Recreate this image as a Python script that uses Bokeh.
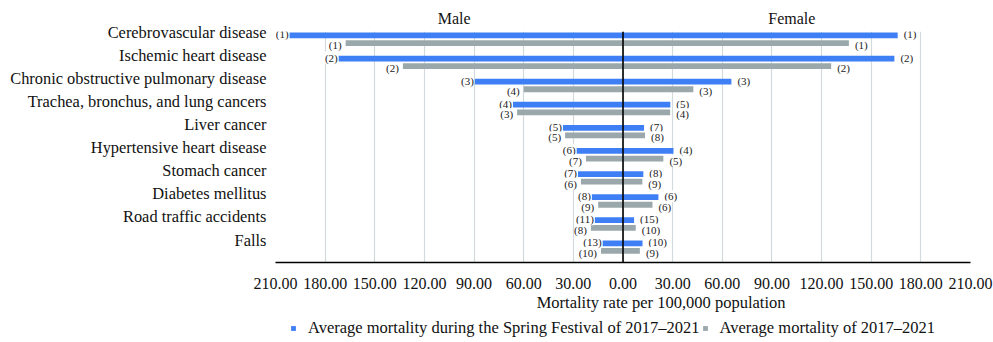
from bokeh.plotting import figure
from bokeh.layouts import column
from bokeh.models import (ColumnDataSource, Range1d, FixedTicker, LinearAxis,
                          Span, Legend, LegendItem)
from bokeh.core.properties import value
from bokeh.embed import file_html
from bokeh.resources import INLINE

# ---------------- data ----------------
categories = [
    "Cerebrovascular disease",
    "Ischemic heart disease",
    "Chronic obstructive pulmonary disease",
    "Trachea, bronchus, and lung cancers",
    "Liver cancer",
    "Hypertensive heart disease",
    "Stomach cancer",
    "Diabetes mellitus",
    "Road traffic accidents",
    "Falls",
]
male_festival = [201.5, 171.8, 89.5, 66.5, 36.3, 28.0, 27.2, 18.8, 17.0, 12.3]
male_average = [167.6, 133.0, 60.0, 64.0, 35.0, 22.4, 25.4, 15.0, 19.4, 13.3]
female_festival = [166.0, 164.0, 65.5, 28.6, 12.7, 30.5, 12.3, 21.4, 6.7, 11.8]
female_average = [136.5, 125.8, 42.5, 28.5, 13.3, 24.4, 11.7, 17.8, 7.7, 10.2]

male_festival_rank = [1, 2, 3, 4, 5, 6, 7, 8, 11, 13]
male_average_rank = [1, 2, 4, 3, 5, 7, 6, 9, 8, 10]
female_festival_rank = [1, 2, 3, 5, 7, 4, 8, 6, 15, 10]
female_average_rank = [1, 2, 3, 4, 8, 5, 9, 6, 10, 9]

tick_values = [-210, -180, -150, -120, -90, -60, -30, 0, 30, 60, 90, 120, 150, 180, 210]
tick_labels = ["210.00", "180.00", "150.00", "120.00", "90.00", "60.00", "30.00", "0.00",
               "30.00", "60.00", "90.00", "120.00", "150.00", "180.00", "210.00"]

panel_titles = ["Male", "Female"]
series_names = ["Average mortality during the Spring Festival of 2017\u20132021",
                "Average mortality of 2017\u20132021"]
axis_title = "Mortality rate per 100,000 population"

# ---------------- style ----------------
FONT = "Liberation Serif"
BLUE = "#3f7ff5"
GRAY = "#9ba8ab"
GRID = "#d3dade"
INK = "#111111"

n = len(categories)
idx = list(range(n))
y_fest = [i - 0.33 for i in idx]
y_avg = [float(i) for i in idx]

p = figure(width=993, height=316,
           x_range=Range1d(-210, 210), y_range=Range1d(n - 0.5, -0.5),
           output_backend="svg", toolbar_location=None, y_axis_location=None,
           min_border_left=275, min_border_right=23, min_border_top=31,
           min_border_bottom=54)
p.outline_line_color = None
p.background_fill_color = "white"

def src(yv, vals, ranks, sign):
    return ColumnDataSource(dict(y=yv, x=[sign * v for v in vals],
                                 t=["(%d)" % r for r in ranks]))

s_mf = src(y_fest, male_festival, male_festival_rank, -1)
s_ma = src(y_avg, male_average, male_average_rank, -1)
s_ff = src(y_fest, female_festival, female_festival_rank, 1)
s_fa = src(y_avg, female_average, female_average_rank, 1)

H = 0.25
p.hbar(y="y", left=0, right="x", height=H, source=s_mf, fill_color=BLUE, line_color=None)
p.hbar(y="y", left=0, right="x", height=H, source=s_ma, fill_color=GRAY, line_color=None)
p.hbar(y="y", left=0, right="x", height=H, source=s_ff, fill_color=BLUE, line_color=None)
p.hbar(y="y", left=0, right="x", height=H, source=s_fa, fill_color=GRAY, line_color=None)

lab_kw = dict(x="x", y="y", text="t", text_font=value(FONT), text_font_size="11px",
              text_baseline="middle", text_color="#222222",
              background_fill_color="white")
p.text(source=s_mf, text_align="right", x_offset=-1, y_offset=-1, **lab_kw)
p.text(source=s_ma, text_align="right", x_offset=-4, y_offset=2, **lab_kw)
p.text(source=s_ff, text_align="left", x_offset=6, y_offset=-1, **lab_kw)
p.text(source=s_fa, text_align="left", x_offset=6, y_offset=2, **lab_kw)

p.add_layout(Span(location=0, dimension="height", line_color="black", line_width=1.6))

# x axis
xax = p.xaxis[0]
xax.ticker = FixedTicker(ticks=tick_values)
xax.major_label_overrides = dict(zip(tick_values, tick_labels))
xax.major_tick_out = 0
xax.major_tick_in = 0
xax.minor_tick_out = 0
xax.minor_tick_in = 0
xax.axis_line_color = "black"
xax.axis_line_width = 1.6
xax.major_label_standoff = 15
xax.major_label_text_font = FONT
xax.major_label_text_font_size = "16px"
xax.major_label_text_color = INK

p.xgrid.ticker = FixedTicker(ticks=tick_values)
p.xgrid.grid_line_color = GRID
p.xgrid.grid_line_width = 1.2
p.ygrid.visible = False

# axis title (placed as a single-tick axis so it can sit off-centre)
title_pos = 23
tax = LinearAxis(ticker=FixedTicker(ticks=[title_pos]),
                 major_label_overrides={title_pos: axis_title},
                 axis_line_color=None, major_tick_out=0, major_tick_in=0,
                 minor_tick_out=0, minor_tick_in=0, major_label_standoff=1,
                 major_label_text_font=FONT, major_label_text_font_size="16.5px",
                 major_label_text_color=INK)
p.add_layout(tax, "below")

# Male / Female headers
head_pos = [-102, 102]
hax = LinearAxis(ticker=FixedTicker(ticks=head_pos),
                 major_label_overrides=dict(zip(head_pos, panel_titles)),
                 axis_line_color=None, major_tick_out=0, major_tick_in=0,
                 minor_tick_out=0, minor_tick_in=0, major_label_standoff=5,
                 major_label_text_font=FONT, major_label_text_font_size="16px",
                 major_label_text_color=INK)
p.add_layout(hax, "above")

# category axis (labels sit slightly above each bar pair)
p.extra_y_ranges = {"lab": Range1d(n - 0.5 + 0.47, -0.5 + 0.47)}
yax = LinearAxis(y_range_name="lab", ticker=FixedTicker(ticks=idx),
                 major_label_overrides={i: c for i, c in enumerate(categories)},
                 axis_line_color=None, major_tick_out=0, major_tick_in=0,
                 minor_tick_out=0, minor_tick_in=0, major_label_standoff=9,
                 major_label_text_font=FONT, major_label_text_font_size="16.4px",
                 major_label_text_color=INK)
p.add_layout(yax, "left")

# legend strip underneath; its frame aligns with the main frame.
# The swatch renderers hold one zero-length bar placed outside the strip's visible range.
q = figure(width=993, height=26, x_range=Range1d(0, 1), y_range=Range1d(0, 1),
           output_backend="svg", toolbar_location=None,
           x_axis_location=None, y_axis_location=None,
           min_border_left=0, min_border_right=0, min_border_top=0, min_border_bottom=0)
q.outline_line_color = None
q.xgrid.visible = False
q.ygrid.visible = False
hidden = dict(y=[-5.0], x=[0.0])
sw_f = q.hbar(y="y", left=0, right="x", height=1, source=ColumnDataSource(hidden),
              fill_color=BLUE, line_color=None)
sw_a = q.hbar(y="y", left=0, right="x", height=1, source=ColumnDataSource(dict(hidden)),
              fill_color=GRAY, line_color=None)
legend = Legend(items=[LegendItem(label=series_names[0], renderers=[sw_f]),
                       LegendItem(label=series_names[1], renderers=[sw_a])],
                orientation="horizontal", location=(15, 4),
                glyph_width=6, glyph_height=6, label_standoff=12, spacing=2,
                padding=0, margin=0, border_line_color=None, background_fill_alpha=0,
                label_text_font=FONT, label_text_font_size="16.5px",
                label_text_color=INK, label_height=20)
q.add_layout(legend, "center")

open("out.html", "w").write(file_html(column(p, q, spacing=0), INLINE))
